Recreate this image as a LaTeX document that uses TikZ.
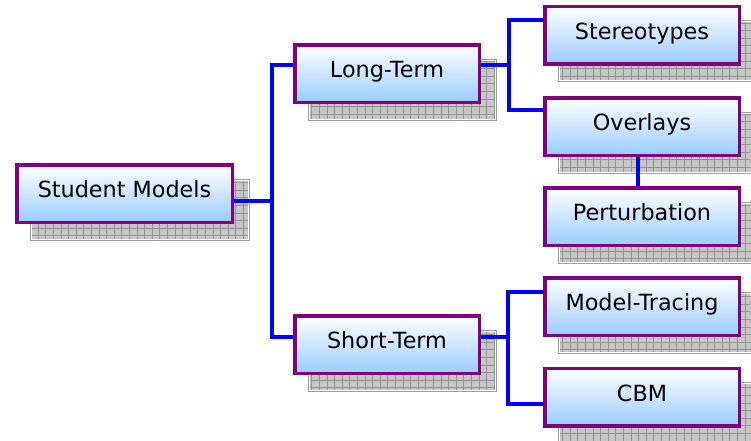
\documentclass[tikz,border=0pt]{standalone}
\usepackage{fontspec}
\setmainfont{DejaVu Sans}
\usetikzlibrary{backgrounds}
\definecolor{boxpurple}{RGB}{128,0,128}
\definecolor{boxblue}{RGB}{153,204,255}
\definecolor{connblue}{RGB}{0,0,255}
\tikzset{
  mbox/.style={draw=boxpurple, line width=3.5pt, top color=white, bottom color=boxblue,
    minimum height=57.5pt, inner sep=0pt, text height=16.2pt, text depth=8pt,
    font=\fontsize{22.3}{25}\selectfont},
  conn/.style={draw=connblue, line width=3.3pt},
  shadowfill/.style={fill=black!22, draw=black!38, line width=0.8pt},
  shadowgrid/.style={draw=black!42, line width=0.5pt}
}
\newcommand\boxshadow[1]{%
  \begin{scope}
    \path[shadowfill] ([shift={(15,16)}]#1.north west) rectangle ([shift={(15,16)}]#1.south east);
    \clip ([shift={(15,16)}]#1.north west) rectangle ([shift={(15,16)}]#1.south east);
    \draw[shadowgrid, xstep=7.6pt, ystep=7.6pt] ([shift={(0,40)}]#1.south west) grid ([shift={(40,0)}]#1.north east);
    \draw[white, line width=0.8pt] ([shift={(16,17)}]#1.north west) rectangle ([shift={(14,15)}]#1.south east);
  \end{scope}}
\begin{document}
\begin{tikzpicture}[x=1pt, y=-1pt]
\useasboundingbox (0,0) rectangle (751,440);
\node[mbox, minimum width=215.5pt] (sm) at (124.5,193.5) {Student Models};
\node[mbox, minimum width=184.5pt] (lt) at (387,73.5) {Long-Term};
\node[mbox, minimum width=184.5pt] (st) at (387,344.5) {Short-Term};
\node[mbox, minimum width=194.5pt] (so) at (642,35) {Stereotypes};
\node[mbox, minimum width=194.5pt] (ov) at (642,126.5) {Overlays};
\node[mbox, minimum width=194.5pt] (pe) at (642,216.5) {Perturbation};
\node[mbox, minimum width=194.5pt] (mt) at (642,306.5) {Model-Tracing};
\node[mbox, minimum width=194.5pt] (cb) at (642,397) {CBM};
\begin{scope}[on background layer]
  \boxshadow{sm}\boxshadow{lt}\boxshadow{st}\boxshadow{so}
  \boxshadow{ov}\boxshadow{pe}\boxshadow{mt}\boxshadow{cb}
\end{scope}
\coordinate (trunk) at (272,201);
\coordinate (ltb) at (509,65);
\coordinate (stb) at (508,337);
\draw[conn] ([yshift=-7.5pt]sm.east) -- (trunk);
\draw[conn] (trunk) |- ([yshift=8.5pt]lt.west);
\draw[conn] (trunk) |- ([yshift=7.5pt]st.west);
\draw[conn] ([yshift=8.5pt]lt.east) -- (ltb);
\draw[conn] (ltb) |- ([yshift=15pt]so.west);
\draw[conn] (ltb) |- ([yshift=16.5pt]ov.west);
\draw[conn] ([yshift=7.5pt]st.east) -- (stb);
\draw[conn] (stb) |- ([yshift=14.5pt]mt.west);
\draw[conn] (stb) |- ([yshift=-7pt]cb.west);
\draw[conn] ([xshift=-4pt]ov.south) -- ([xshift=-4pt]pe.north);
\end{tikzpicture}
\end{document}
